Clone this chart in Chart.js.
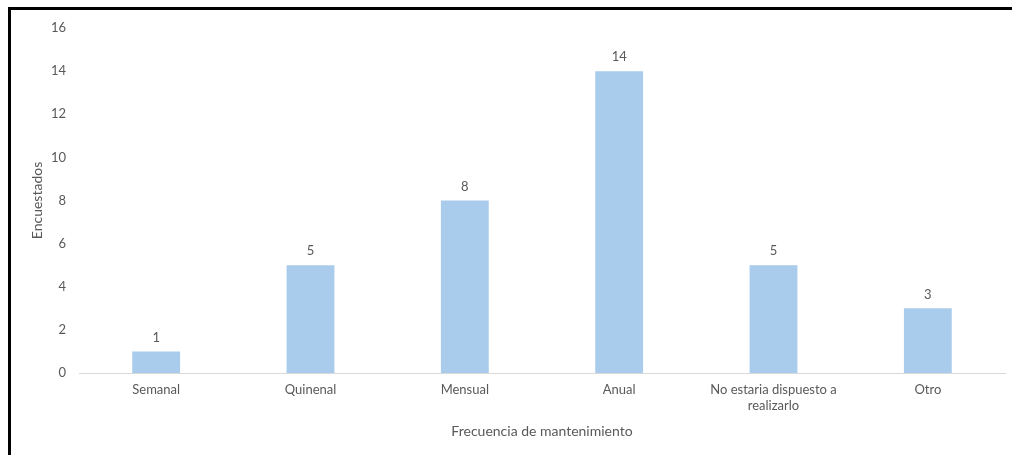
<!DOCTYPE html>
<html>
<head>
<meta charset="utf-8">
<script src="https://cdn.jsdelivr.net/npm/chart.js@4"></script>
<style>
  html, body { margin: 0; padding: 0; background: #fff; }
  #wrap { position: relative; width: 1012px; height: 455px; overflow: hidden; }
  #marco { position: absolute; left: 8px; top: 7px; width: 1100px; height: 500px;
           border-left: 3px solid #000; border-top: 3px solid #000; pointer-events: none; }
</style>
</head>
<body>
<div id="wrap">
  <canvas id="grafico"></canvas>
  <div id="marco"></div>
</div>
<script>
// Datos de la encuesta
const categorias = ["Semanal", "Quinenal", "Mensual", "Anual", ["No estaria dispuesto a", "realizarlo"], "Otro"];
const encuestados = [1, 5, 8, 14, 5, 3];
const ejeY = { min: 0, max: 16, paso: 2 };

const fuente = "Lato, 'Liberation Sans', sans-serif";
const gris = "#595959";

// Etiquetas con el valor encima de cada barra
const etiquetasValor = {
    id: "etiquetasValor",
    afterDatasetsDraw(chart) {
        const ctx = chart.ctx;
        const meta = chart.getDatasetMeta(0);
        ctx.save();
        ctx.font = "13px " + fuente;
        ctx.fillStyle = gris;
        ctx.textAlign = "center";
        ctx.textBaseline = "middle";
        meta.data.forEach((barra, i) => {
            ctx.fillText(String(chart.data.datasets[0].data[i]), barra.x, barra.y - 14);
        });
        ctx.restore();
    }
};

const ctx = document.getElementById("grafico").getContext("2d");
new Chart(ctx, {
    type: "bar",
    data: {
        labels: categorias,
        datasets: [{
            label: "Encuestados",
            data: encuestados,
            backgroundColor: "#A9CBEC",
            barPercentage: 0.31,
            categoryPercentage: 1
        }]
    },
    options: {
        responsive: true,
        maintainAspectRatio: false,
        animation: false,
        layout: { padding: { left: 0, right: 7, top: 28, bottom: 15 } },
        plugins: {
            legend: { display: false },
            tooltip: { enabled: false }
        },
        scales: {
            x: {
                grid: { display: false, drawTicks: false },
                border: { display: true, color: "#D9D9D9", width: 1 },
                ticks: { color: gris, font: { family: fuente, size: 13 }, padding: 9, maxRotation: 0 },
                title: {
                    display: true,
                    text: "Frecuencia de mantenimiento",
                    color: gris,
                    font: { family: fuente, size: 14 },
                    padding: { top: 1, bottom: 0 }
                }
            },
            y: {
                min: ejeY.min,
                max: ejeY.max,
                grid: { display: false, drawTicks: false },
                border: { display: false },
                ticks: { stepSize: ejeY.paso, color: gris, font: { family: fuente, size: 13 }, padding: 13 },
                title: {
                    display: true,
                    text: "Encuestados",
                    color: gris,
                    font: { family: fuente, size: 14 },
                    padding: { top: 29, bottom: 8 }
                },
                afterFit(eje) { eje.width = 79; }
            }
        }
    },
    plugins: [etiquetasValor]
});
</script>
</body>
</html>
